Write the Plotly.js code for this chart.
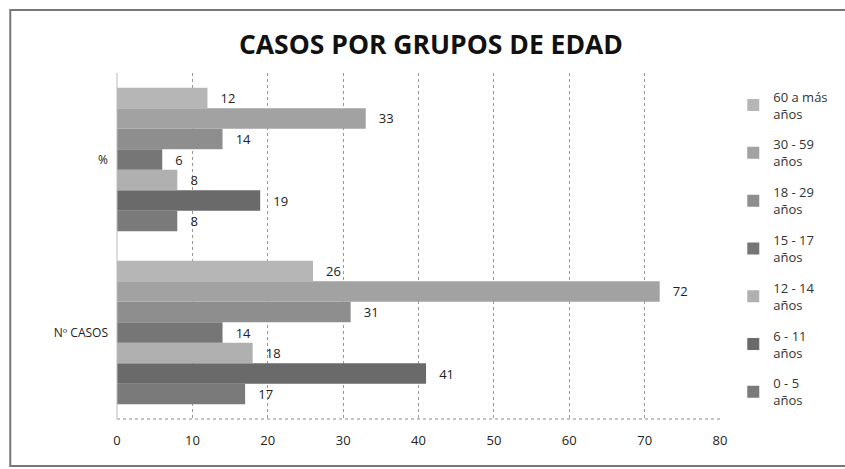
<!DOCTYPE html>
<html>
<head>
<meta charset="utf-8">
<script src="https://cdn.plot.ly/plotly-3.0.1.min.js"></script>
<style>
html,body{margin:0;padding:0;background:#fff;}
#chart{width:845px;height:469px;}
</style>
</head>
<body>
<div id="chart"></div>
<script>
var categories = ['Nº CASOS', '%'];
var seriesNames = ['0 - 5<br>años', '6 - 11<br>años', '12 - 14<br>años', '15 - 17<br>años', '18 - 29<br>años', '30 - 59<br>años', '60 a más<br>años'];
var casos = [17, 41, 18, 14, 31, 72, 26];
var pct = [8, 19, 8, 6, 14, 33, 12];
var colors = ['#7a7a7a', '#6a6a6a', '#b0b0b0', '#767676', '#8e8e8e', '#a2a2a2', '#b6b6b6'];
var xTicks = [0, 10, 20, 30, 40, 50, 60, 70, 80];

var traces = seriesNames.map(function(name, i){
  return {
    type: 'bar',
    orientation: 'h',
    name: name,
    legendgroup: 'g' + i,
    legendrank: 1000 - i,
    y: categories,
    x: [casos[i], pct[i]],
    texttemplate: '\u00a0\u00a0\u00a0%{x}',
    textposition: 'outside',
    cliponaxis: false,
    textfont: {family: 'Open Sans, sans-serif', size: 13, color: '#222'},
    marker: {color: colors[i], line: {width: 0}}
  };
});

var layout = {
  width: 845, height: 469,
  margin: {l: 117, r: 123, t: 73, b: 50},
  paper_bgcolor: '#fff', plot_bgcolor: '#fff',
  title: {text: '<b>CASOS POR GRUPOS DE EDAD</b>', font: {family: 'Open Sans, sans-serif', size: 26.5, color: '#111'}, x: 0.51, xanchor: 'center', y: 0.905, yanchor: 'middle'},
  barmode: 'group',
  bargap: 0.17,
  bargroupgap: 0,
  showlegend: true,
  legend: {traceorder: 'grouped', x: 1.022, xanchor: 'left', y: 0.975, yanchor: 'top', font: {family: 'Open Sans, sans-serif', size: 13, color: '#333'}, itemwidth: 30, tracegroupgap: 11},
  xaxis: {range: [0, 80], tickvals: xTicks, ticktext: xTicks.map(String), showgrid: true, gridcolor: '#999', griddash: 'dot', gridwidth: 1, zeroline: false, showline: false, ticks: '', tickfont: {family: 'Open Sans, sans-serif', size: 13, color: '#222'}, ticklabelstandoff: 12},
  yaxis: {type: 'category', categoryorder: 'array', categoryarray: categories, showgrid: false, zeroline: false, showline: false, ticks: '', tickfont: {family: 'Open Sans, sans-serif', size: 12, color: '#222'}, ticklabelstandoff: 8},
  shapes: [
    {type: 'line', xref: 'paper', yref: 'paper', x0: 0, x1: 1, y0: 0, y1: 0, line: {color: '#888', width: 1, dash: 'dot'}},
    {type: 'line', xref: 'paper', yref: 'paper', x0: 0, x1: 0, y0: 0, y1: 1, line: {color: '#bbb', width: 1}},
    {type: 'rect', xref: 'paper', yref: 'paper', x0: -0.177, x1: 1.212, y0: -0.136, y1: 1.182, line: {color: '#777', width: 2}, fillcolor: 'rgba(0,0,0,0)'}
  ]
};

Plotly.newPlot('chart', traces, layout, {displayModeBar: false, staticPlot: true});
</script>
</body>
</html>
